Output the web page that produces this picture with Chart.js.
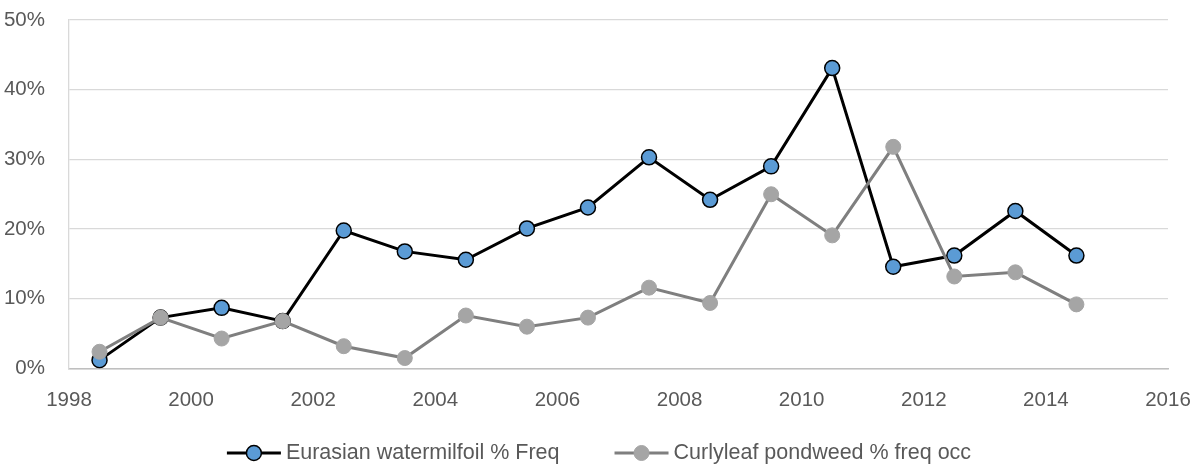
<!DOCTYPE html>
<html>
<head>
<meta charset="utf-8">
<title>Milfoil / pondweed frequency</title>
<script src="https://cdn.jsdelivr.net/npm/chart.js@4/dist/chart.umd.min.js"></script>
<style>
  body { margin: 0; background: #fff; }
  #wrap { width: 1198px; height: 464px; }
</style>
</head>
<body>
<div id="wrap"><canvas id="chart" width="1198" height="464"></canvas></div>
<script>
// survey years (points sit half way between the year ticks)
const years = [1998.5, 1999.5, 2000.5, 2001.5, 2002.5, 2003.5, 2004.5, 2005.5, 2006.5,
               2007.5, 2008.5, 2009.5, 2010.5, 2011.5, 2012.5, 2013.5, 2014.5];
// % frequency of occurrence
const milfoil = [1.2, 7.3, 8.7, 6.8, 19.8, 16.8, 15.6, 20.1, 23.1, 30.3, 24.2, 29.0, 43.1, 14.6, 16.2, 22.6, 16.2];
const pondweed = [2.4, 7.3, 4.3, 6.8, 3.2, 1.5, 7.6, 6.0, 7.3, 11.6, 9.4, 25.0, 19.1, 31.8, 13.2, 13.8, 9.2];
const seriesNames = ['Eurasian watermilfoil % Freq', 'Curlyleaf pondweed % freq occ'];
const yearTicks = [1998, 2000, 2002, 2004, 2006, 2008, 2010, 2012, 2014, 2016];
const pctTicks = [0, 10, 20, 30, 40, 50];

const FONT = "'Liberation Sans', Arial, sans-serif";
const TEXT = '#595959';

function toPoints(xs, ys) {
    let out = [];
    for (let i = 0; i < xs.length; i++) {
        out.push({x: xs[i], y: ys[i]});
    }
    return out;
}

// excel style legend: short line with the marker on it
const lineLegend = {
    id: 'lineLegend',
    afterDraw(chart) {
        const ctx = chart.ctx;
        const y = 453;
        const lineW = 54, textGap = 5, itemGap = 55;
        ctx.save();
        ctx.font = '21.5px ' + FONT;
        let widths = chart.data.datasets.map(ds => lineW + textGap + ctx.measureText(ds.label).width);
        let total = widths.reduce((a, b) => a + b, 0) + itemGap * (widths.length - 1);
        let x = (chart.width - total) / 2;
        chart.data.datasets.forEach((ds, i) => {
            ctx.beginPath();
            ctx.moveTo(x, y);
            ctx.lineTo(x + lineW, y);
            ctx.strokeStyle = ds.borderColor;
            ctx.lineWidth = ds.borderWidth;
            ctx.stroke();
            ctx.beginPath();
            ctx.arc(x + lineW / 2, y, ds.pointRadius, 0, Math.PI * 2);
            ctx.fillStyle = ds.pointBackgroundColor;
            ctx.fill();
            ctx.lineWidth = ds.pointBorderWidth;
            ctx.strokeStyle = ds.pointBorderColor;
            ctx.stroke();
            ctx.fillStyle = TEXT;
            ctx.textBaseline = 'middle';
            ctx.textAlign = 'left';
            ctx.fillText(ds.label, x + lineW + textGap, y);
            x += widths[i] + itemGap;
        });
        ctx.restore();
    }
};

var chart = new Chart(document.getElementById('chart').getContext('2d'), {
    type: 'line',
    data: {
        datasets: [
            {
                label: seriesNames[0],
                data: toPoints(years, milfoil),
                borderColor: '#000000',
                borderWidth: 3,
                pointRadius: 7.5,
                pointHoverRadius: 7.5,
                pointBackgroundColor: '#5B9BD5',
                pointBorderColor: '#000000',
                pointBorderWidth: 1.5,
                fill: false,
                tension: 0,
                order: 1
            },
            {
                label: seriesNames[1],
                data: toPoints(years, pondweed),
                borderColor: '#7F7F7F',
                borderWidth: 3,
                pointRadius: 7.5,
                pointHoverRadius: 7.5,
                pointBackgroundColor: '#A5A5A5',
                pointBorderColor: '#A5A5A5',
                pointBorderWidth: 1,
                fill: false,
                tension: 0,
                order: 0
            }
        ]
    },
    options: {
        responsive: false,
        devicePixelRatio: 1,
        animation: false,
        layout: { padding: { left: 0, right: 30, top: 20, bottom: 0 } },
        plugins: {
            legend: { display: false },
            tooltip: { enabled: false }
        },
        scales: {
            x: {
                type: 'linear',
                min: yearTicks[0],
                max: yearTicks[yearTicks.length - 1],
                afterBuildTicks: (s) => { s.ticks = yearTicks.map(v => ({value: v})); },
                // fixed box so the plot area lands where the original one is
                afterFit: (s) => { s.height = 95.5; s.paddingLeft = 0; s.paddingRight = 0; },
                grid: { display: false, drawTicks: false },
                border: { display: true, color: '#BFBFBF', width: 1.5 },
                ticks: {
                    callback: (v) => String(v),
                    font: { family: FONT, size: 20.5 },
                    color: TEXT,
                    padding: 20,
                    maxRotation: 0
                }
            },
            y: {
                min: pctTicks[0],
                max: pctTicks[pctTicks.length - 1],
                afterBuildTicks: (s) => { s.ticks = pctTicks.map(v => ({value: v})); },
                afterFit: (s) => { s.width = 69; s.paddingTop = 0; s.paddingBottom = 0; },
                grid: { color: '#D9D9D9', lineWidth: 1.3, drawTicks: false },
                border: { display: true, color: '#D9D9D9', width: 1.3 },
                ticks: {
                    callback: (v) => v + '%',
                    font: { family: FONT, size: 20.5 },
                    color: TEXT,
                    padding: 24
                }
            }
        }
    },
    plugins: [lineLegend]
});
</script>
</body>
</html>
